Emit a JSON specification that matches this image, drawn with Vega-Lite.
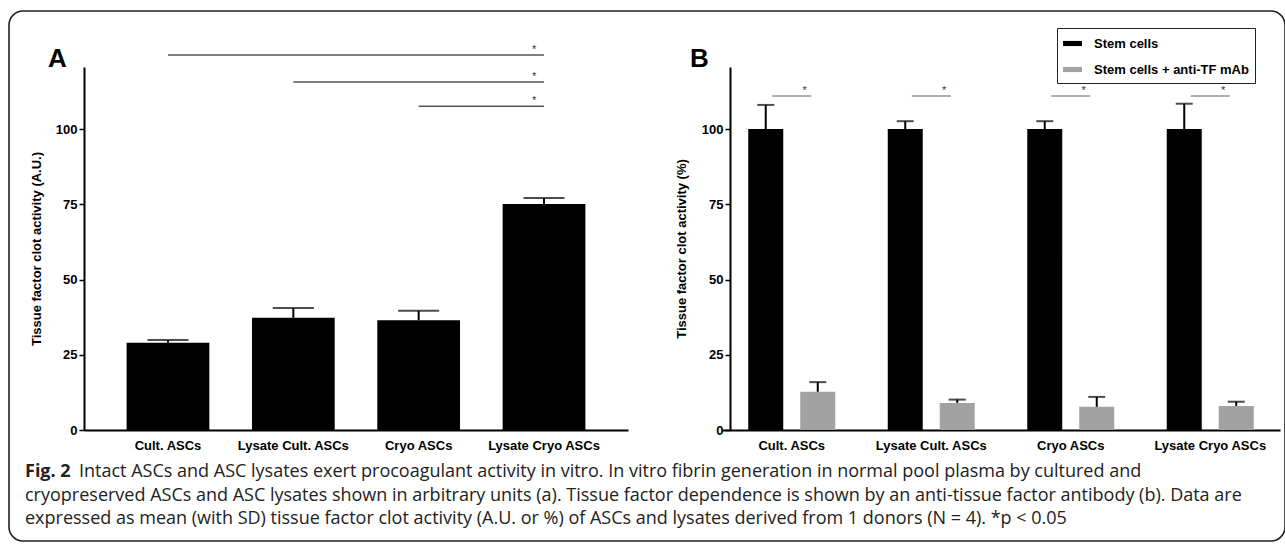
{
  "$schema": "https://vega.github.io/schema/vega-lite/v6.json",
  "autosize": "none",
  "width": 1276,
  "height": 530,
  "padding": {"left": 9, "top": 11, "right": 0, "bottom": 9},
  "background": "white",
  "config": {
    "view": {"stroke": "#222222", "strokeWidth": 1.6, "cornerRadius": 14},
    "font": "Liberation Sans",
    "axis": {
      "grid": false,
      "domainColor": "black",
      "domainWidth": 2,
      "tickColor": "black",
      "tickWidth": 1.5,
      "tickSize": 5,
      "labelColor": "black",
      "labelFont": "Liberation Sans",
      "labelFontWeight": "bold",
      "labelFontSize": 13,
      "labelPadding": 2,
      "titleColor": "black",
      "titleFont": "Liberation Sans",
      "titleFontWeight": "bold",
      "titleFontSize": 13
    }
  },
  "datasets": {
    "panelA": [
      {"cond": "Cult. ASCs", "mean": 29.0, "upper": 29.9},
      {"cond": "Lysate Cult. ASCs", "mean": 37.3, "upper": 40.5},
      {"cond": "Cryo ASCs", "mean": 36.5, "upper": 39.6},
      {"cond": "Lysate Cryo ASCs", "mean": 75.1, "upper": 77.1}
    ],
    "sigA": [
      {"from": "Cult. ASCs", "to": "Lysate Cryo ASCs", "level": 124.6, "mark": "*"},
      {"from": "Lysate Cult. ASCs", "to": "Lysate Cryo ASCs", "level": 115.6, "mark": "*"},
      {"from": "Cryo ASCs", "to": "Lysate Cryo ASCs", "level": 107.6, "mark": "*"}
    ],
    "panelB": [
      {"group": "Cult. ASCs", "series": "Stem cells", "mean": 100, "upper": 108.0},
      {"group": "Cult. ASCs", "series": "Stem cells + anti-TF mAb", "mean": 12.7, "upper": 15.9},
      {"group": "Lysate Cult. ASCs", "series": "Stem cells", "mean": 100, "upper": 102.6},
      {"group": "Lysate Cult. ASCs", "series": "Stem cells + anti-TF mAb", "mean": 9.0, "upper": 10.1},
      {"group": "Cryo ASCs", "series": "Stem cells", "mean": 100, "upper": 102.6},
      {"group": "Cryo ASCs", "series": "Stem cells + anti-TF mAb", "mean": 7.7, "upper": 11.0},
      {"group": "Lysate Cryo ASCs", "series": "Stem cells", "mean": 100, "upper": 108.4},
      {"group": "Lysate Cryo ASCs", "series": "Stem cells + anti-TF mAb", "mean": 8.0, "upper": 9.4}
    ],
    "sigB": [
      {"group": "Cult. ASCs", "level": 111, "mark": "*"},
      {"group": "Lysate Cult. ASCs", "level": 111, "mark": "*"},
      {"group": "Cryo ASCs", "level": 111, "mark": "*"},
      {"group": "Lysate Cryo ASCs", "level": 111, "mark": "*"}
    ],
    "captionFirst": [
      {"line": 1, "text": "Intact ASCs and ASC lysates exert procoagulant activity in vitro. In vitro fibrin generation in normal pool plasma by cultured and"}
    ],
    "captionRest": [
      {"line": 2, "text": "cryopreserved ASCs and ASC lysates shown in arbitrary units (a). Tissue factor dependence is shown by an anti-tissue factor antibody (b). Data are"},
      {"line": 3, "text": "expressed as mean (with SD) tissue factor clot activity (A.U. or %) of ASCs and lysates derived from 1 donors (N = 4). *p < 0.05"}
    ],
    "captionHead": [{"line": 1, "text": "Fig. 2"}],
    "letters": [{"letter": "A"}],
    "lettersB": [{"letter": "B"}]
  },
  "layer": [
    {
      "encoding": {
        "x": {
          "field": "cond", "type": "nominal",
          "scale": {"domain": ["Cult. ASCs", "Lysate Cult. ASCs", "Cryo ASCs", "Lysate Cryo ASCs"], "range": [75, 619], "paddingInner": 0.34, "paddingOuter": 0.34},
          "axis": {"orient": "bottom", "offset": -111, "title": null, "labelAngle": 0, "ticks": false, "labelPadding": 9}
        },
        "y": {
          "field": "mean", "type": "quantitative",
          "scale": {"domain": [0, 120.6], "range": [419, 56], "nice": false},
          "axis": {"orient": "left", "offset": -75, "values": [0, 25, 50, 75, 100], "title": "Tissue factor clot activity (A.U.)", "titlePadding": 12}
        }
      },
      "layer": [
        {"data": {"name": "panelA"}, "mark": {"type": "bar", "color": "black"}},
        {"data": {"name": "panelA"}, "mark": {"type": "rule", "color": "black", "strokeWidth": 2}, "encoding": {"y2": {"field": "upper"}}},
        {"data": {"name": "panelA"}, "mark": {"type": "tick", "color": "black", "thickness": 2, "size": 41, "orient": "horizontal"}, "encoding": {"y": {"field": "upper", "type": "quantitative"}}},
        {"data": {"name": "sigA"}, "mark": {"type": "rule", "color": "#555555", "strokeWidth": 1.5}, "encoding": {"x": {"field": "from", "type": "nominal"}, "x2": {"field": "to"}, "y": {"field": "level", "type": "quantitative"}}},
        {"data": {"name": "sigA"}, "mark": {"type": "text", "fontSize": 11, "color": "#333333", "baseline": "alphabetic", "dx": -10, "dy": -2}, "encoding": {"x": {"field": "to", "type": "nominal"}, "y": {"field": "level", "type": "quantitative"}, "text": {"field": "mark"}}},
        {"data": {"name": "letters"}, "mark": {"type": "text", "fontSize": 26, "fontWeight": "bold", "color": "black", "align": "left", "baseline": "alphabetic"}, "encoding": {"x": {"value": 39}, "y": {"value": 56}, "text": {"field": "letter"}}}
      ]
    },
    {
      "encoding": {
        "x": {
          "field": "group", "type": "nominal",
          "scale": {"domain": ["Cult. ASCs", "Lysate Cult. ASCs", "Cryo ASCs", "Lysate Cryo ASCs"], "range": [713, 1271], "paddingInner": 0, "paddingOuter": 0},
          "axis": {"orient": "bottom", "offset": -111, "title": null, "labelAngle": 0, "ticks": false, "labelPadding": 9}
        },
        "y": {
          "field": "mean", "type": "quantitative",
          "scale": {"domain": [0, 120.6], "range": [419, 56], "nice": false},
          "axis": {"orient": "left", "offset": -721, "values": [0, 25, 50, 75, 100], "title": "Tissue factor clot activity (%)", "titlePadding": 13}
        }
      },
      "layer": [
        {
          "data": {"name": "panelB"},
          "mark": {"type": "bar"},
          "encoding": {
            "xOffset": {"field": "series", "type": "nominal", "scale": {"range": [26.25, 113.25], "paddingInner": 0.327, "paddingOuter": 0}},
            "color": {
              "field": "series", "type": "nominal",
              "scale": {"domain": ["Stem cells", "Stem cells + anti-TF mAb"], "range": ["#000000", "#a2a2a2"]},
              "legend": {
                "orient": "none", "legendX": 1048, "legendY": 17, "title": null,
                "strokeColor": "#222222", "padding": 6,
                "symbolType": "M-1,-0.27H1V0.27H-1Z", "symbolSize": 361, "symbolStrokeWidth": 0,
                "labelFont": "Liberation Sans", "labelFontWeight": "bold", "labelFontSize": 13, "labelColor": "black",
                "labelOffset": 12, "rowPadding": 9
              }
            }
          }
        },
        {
          "data": {"name": "panelB"},
          "mark": {"type": "rule", "color": "black", "strokeWidth": 2},
          "encoding": {"xOffset": {"field": "series", "type": "nominal"}, "y2": {"field": "upper"}}
        },
        {
          "data": {"name": "panelB"},
          "mark": {"type": "tick", "color": "black", "thickness": 2, "size": 17, "orient": "horizontal"},
          "encoding": {"xOffset": {"field": "series", "type": "nominal"}, "y": {"field": "upper", "type": "quantitative"}}
        },
        {
          "data": {"name": "sigB"},
          "mark": {"type": "tick", "color": "#666666", "thickness": 1.5, "size": 39, "orient": "horizontal"},
          "encoding": {"y": {"field": "level", "type": "quantitative"}}
        },
        {
          "data": {"name": "sigB"},
          "mark": {"type": "text", "fontSize": 11, "color": "#333333", "baseline": "alphabetic", "dx": 13, "dy": -2},
          "encoding": {"y": {"field": "level", "type": "quantitative"}, "text": {"field": "mark"}}
        },
        {"data": {"name": "lettersB"}, "mark": {"type": "text", "fontSize": 26, "fontWeight": "bold", "color": "black", "align": "left", "baseline": "alphabetic"}, "encoding": {"x": {"value": 681}, "y": {"value": 56}, "text": {"field": "letter"}}}
      ]
    },
    {
      "encoding": {
        "y": {"field": "line", "type": "ordinal", "scale": {"type": "point", "domain": [1, 2, 3], "range": [461, 508], "padding": 0}, "axis": null},
        "x": {"value": 16},
        "text": {"field": "text"}
      },
      "layer": [
        {"data": {"name": "captionHead"}, "mark": {"type": "text", "font": "Open Sans", "fontSize": 18, "fontWeight": "bold", "color": "#222222", "align": "left", "baseline": "middle"}},
        {"data": {"name": "captionFirst"}, "mark": {"type": "text", "font": "Open Sans", "fontSize": 18, "color": "#222222", "align": "left", "baseline": "middle", "dx": 54}},
        {"data": {"name": "captionRest"}, "mark": {"type": "text", "font": "Open Sans", "fontSize": 18, "color": "#222222", "align": "left", "baseline": "middle"}}
      ]
    }
  ],
  "resolve": {
    "scale": {"x": "independent", "y": "independent", "color": "independent", "xOffset": "independent"},
    "axis": {"x": "independent", "y": "independent"}
  }
}
